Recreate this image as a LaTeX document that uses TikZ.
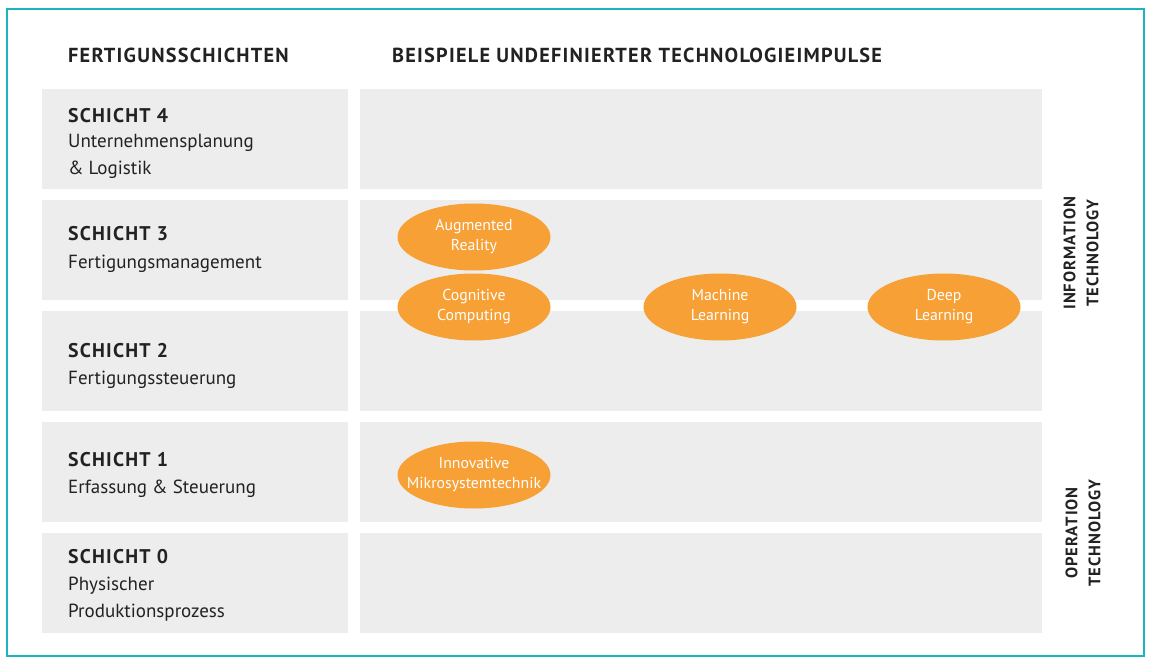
\documentclass[tikz,border=0pt]{standalone}
\usepackage{fontspec}
\setmainfont{PT Sans}
\newfontfamily\capsfont[LetterSpace=6]{PT Sans}
\usetikzlibrary{shapes.geometric}
\definecolor{frame}{HTML}{1BB5C0}
\definecolor{panel}{HTML}{EDEDED}
\definecolor{blob}{HTML}{F7A035}
\definecolor{ink}{HTML}{222222}
\newcommand\zw[1]{\makebox[0pt][c]{#1}}
\tikzset{
  x=1pt,y=-1pt,
  head/.style={font=\capsfont\bfseries\fontsize{20.3}{24}\selectfont,text=ink,anchor=west,inner sep=0},
  rowhead/.style={font=\capsfont\bfseries\fontsize{19.8}{24}\selectfont,text=ink,anchor=west,inner sep=0},
  rowtext/.style={font=\fontsize{19}{27}\selectfont,text=ink,anchor=base west,inner sep=0,align=left},
  techblob/.style={ellipse,fill=blob,draw=none,minimum width=153pt,minimum height=67pt,inner sep=0,
     text=white,align=center,font=\fontsize{15.8}{20}\selectfont},
  sidelabel/.style={font=\capsfont\bfseries\fontsize{16.6}{23}\selectfont,text=ink,rotate=90,align=center,inner sep=0},
}
\begin{document}
\begin{tikzpicture}
\useasboundingbox (0,0) rectangle (1153,663);
\draw[frame,line width=1.2pt] (7,9) rectangle (1144,656);
\node[head] (h1) at (68,55) {FERTIGUNSSCHICHTEN};
\node[head] (h2) at (392,55) {BEISPIELE UNDEFINIERTER TECHNOLOGIEIMPULSE};
% rows
\foreach \i/\t in {4/89,3/200,2/311,1/422,0/533}{
  \fill[panel] (42,\t) rectangle (348,\t+100);
  \fill[panel] (360,\t) rectangle (1042,\t+100);
}
\node[rowhead] (s4) at (68,116) {SCHICHT 4};
\node[rowtext] (t4) at (68,175) {Unternehmensplanung\\\& Logistik};
\node[rowhead] (s3) at (68,234) {SCHICHT 3};
\node[rowtext] (t3) at (68,268) {Fertigungsmanagement};
\node[rowhead] (s2) at (68,351) {SCHICHT 2};
\node[rowtext] (t2) at (68,384) {Fertigungssteuerung};
\node[rowhead] (s1) at (68,460) {SCHICHT 1};
\node[rowtext] (t1) at (68,493) {Erfassung \& Steuerung};
\node[rowhead] (s0) at (68,557) {SCHICHT 0};
\node[rowtext] (t0) at (68,617) {Physischer\\Produktionsprozess};
% blobs
\node[techblob] (ar) at (474,237) {\zw{Augmented}\\\zw{Reality}};
\node[techblob] (cc) at (474,307) {\zw{Cognitive}\\\zw{Computing}};
\node[techblob] (ml) at (720,307) {\zw{Machine}\\\zw{Learning}};
\node[techblob] (dl) at (944,307) {\zw{Deep}\\\zw{Learning}};
\node[techblob] (im) at (474,475) {\zw{Innovative}\\\zw{Mikrosystemtechnik}};
% side labels
\node[sidelabel] (it) at (1081,253) {INFORMATION\\TECHNOLOGY};
\node[sidelabel] (ot) at (1083,533) {OPERATION\\TECHNOLOGY};
\end{tikzpicture}
\end{document}
